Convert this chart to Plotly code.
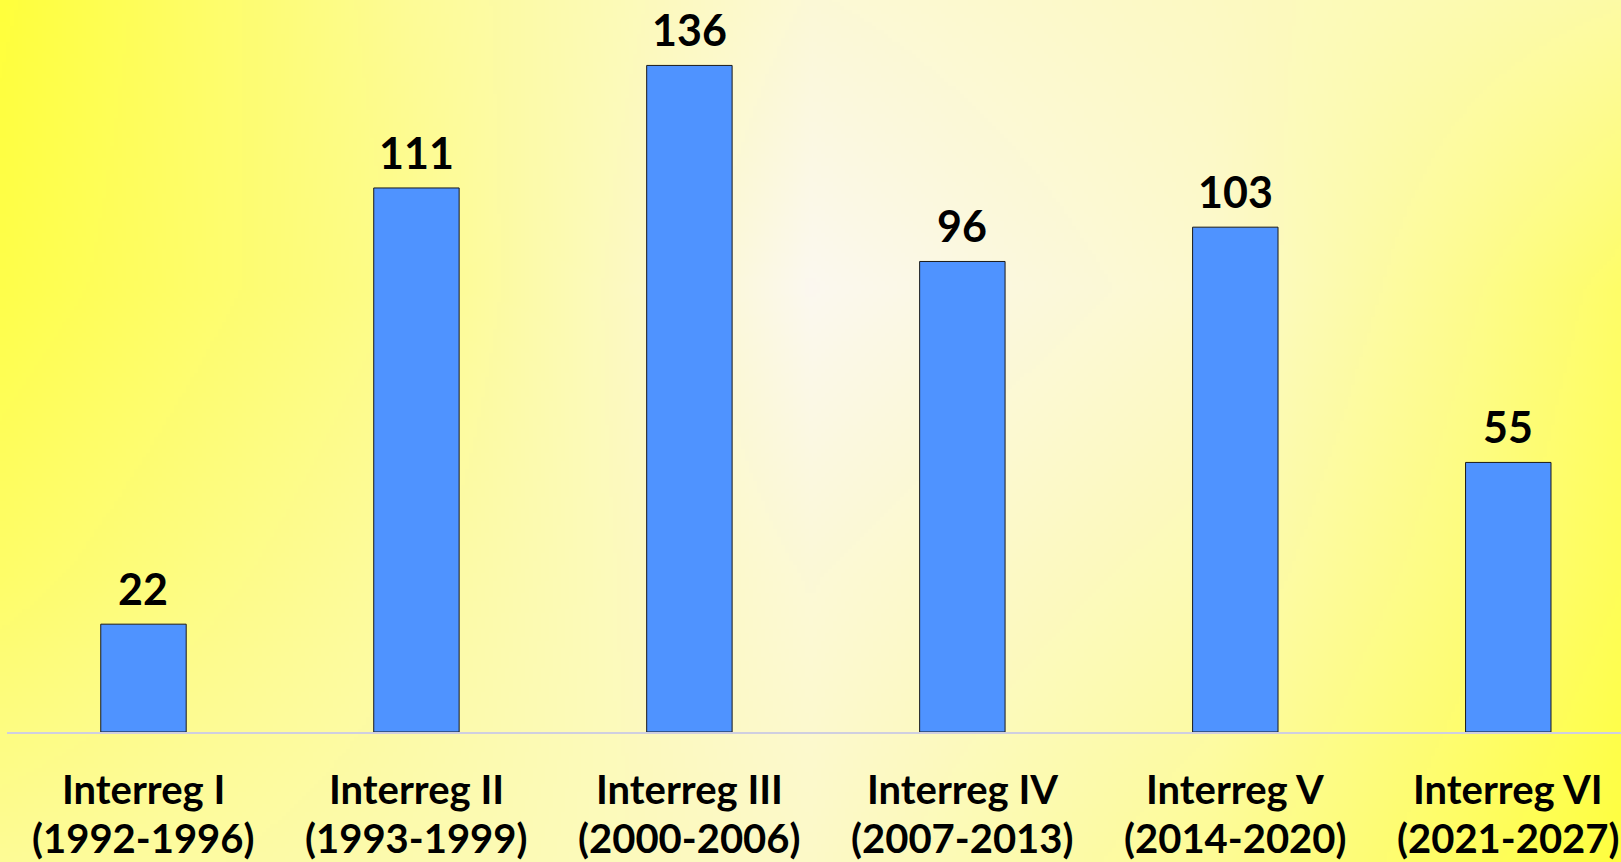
import zlib, struct, base64
import numpy as np
import plotly.graph_objects as go

# ---- data ----
programmes = ["Interreg I", "Interreg II", "Interreg III", "Interreg IV", "Interreg V", "Interreg VI"]
periods = ["(1992-1996)", "(1993-1999)", "(2000-2006)", "(2007-2013)", "(2014-2020)", "(2021-2027)"]
values = [22, 111, 136, 96, 103, 55]

W, H = 1621, 862
ML, MB = 7, 130

# ---- background gradient as an inline PNG ----
xn = np.array([0, 405, 810, 1215, 1621]) / W
yn = np.array([0, 287, 575, 862]) / H
Bgrid = np.array([
    [60, 150, 215, 195, 165],
    [75, 140, 240, 205, 105],
    [105, 160, 215, 180, 90],
    [150, 175, 200, 150, 64],
], dtype=float)

iw, ih = 406, 216
gx = np.linspace(0, 1, iw)
gy = np.linspace(0, 1, ih)
tmp = np.array([np.interp(gx, xn, row) for row in Bgrid])  # (4, iw)
B = np.array([np.interp(gy, yn, tmp[:, i]) for i in range(iw)]).T  # (ih, iw)
G = 255 - (B - 64) * 0.04
R = 255 - (B - 64) * 0.02
img = np.stack([R, G, B], axis=-1).clip(0, 255).astype(np.uint8)
raw = np.concatenate([np.zeros((ih, 1), dtype=np.uint8), img.reshape(ih, iw * 3)], axis=1).tobytes()


def chunk(t, d):
    return struct.pack(">I", len(d)) + t + d + struct.pack(">I", zlib.crc32(t + d) & 0xFFFFFFFF)


png = (b"\x89PNG\r\n\x1a\n" + chunk(b"IHDR", struct.pack(">IIBBBBB", iw, ih, 8, 2, 0, 0, 0))
       + chunk(b"IDAT", zlib.compress(raw, 9)) + chunk(b"IEND", b""))
uri = "data:image/png;base64," + base64.b64encode(png).decode()

FONT = "Lato, Carlito, 'Open Sans', sans-serif"

fig = go.Figure()
fig.add_trace(go.Bar(
    x=programmes, y=values, width=0.313,
    marker=dict(color="#4F93FF", line=dict(color="#1a1a1a", width=1)),
    hoverinfo="skip",
))

plot_w = W - ML
plot_h = H - MB
fig.add_layout_image(dict(
    source=uri, xref="paper", yref="paper",
    x=-ML / plot_w, y=1, sizex=W / plot_w, sizey=H / plot_h,
    xanchor="left", yanchor="top", sizing="stretch", layer="below",
))

for p, per, v in zip(programmes, periods, values):
    fig.add_annotation(x=p, y=v, xref="x", yref="y", text=str(v), showarrow=False,
                       yanchor="middle", yshift=35.5,
                       font=dict(family=FONT, size=43, color="black", weight="bold"))
    fig.add_annotation(x=p, y=0, xref="x", yref="paper", text=p, showarrow=False,
                       yanchor="middle", yshift=-57,
                       font=dict(family=FONT, size=40, color="black", weight="bold"))
    fig.add_annotation(x=p, y=0, xref="x", yref="paper", text=per, showarrow=False,
                       yanchor="middle", yshift=-106,
                       font=dict(family=FONT, size=40, color="black", weight="bold"))

fig.update_layout(
    width=W, height=H,
    margin=dict(l=ML, r=0, t=0, b=MB),
    paper_bgcolor="#FFFCA0", plot_bgcolor="rgba(0,0,0,0)",
    showlegend=False,
    xaxis=dict(range=[-0.5, 5.413], showline=True, linecolor="#CFCFE0", linewidth=2,
               showticklabels=False, showgrid=False, zeroline=False, ticks=""),
    yaxis=dict(range=[0, 149.35], visible=False, showgrid=False, zeroline=False),
)

fig.write_html("out.html", config={"displayModeBar": False},
               post_script="document.body.style.margin='0';document.body.style.overflow='hidden';")
